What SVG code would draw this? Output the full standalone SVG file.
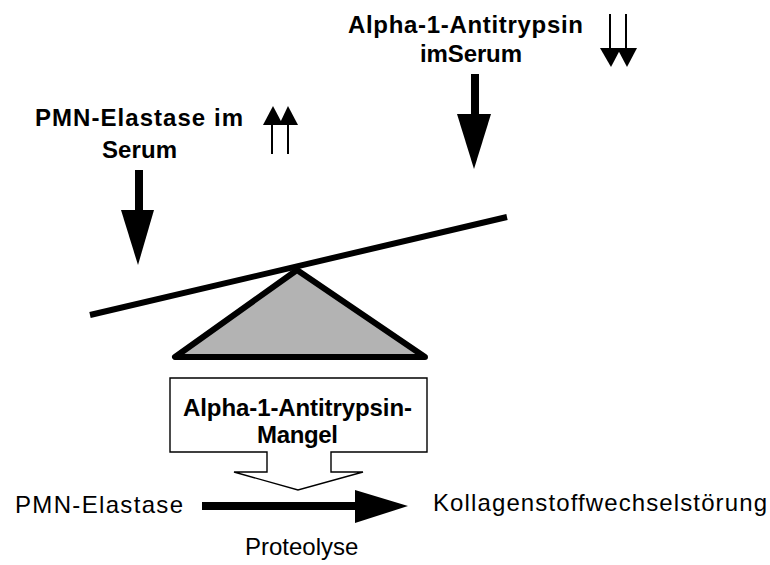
<svg xmlns="http://www.w3.org/2000/svg" width="770" height="565" viewBox="0 0 770 565">
<style>
.b{font-family:"Liberation Sans",Arial,sans-serif;font-weight:bold;font-size:24px;fill:#000}
.r{font-family:"Liberation Sans",Arial,sans-serif;font-size:24px;fill:#000}
.thin{stroke:#000;stroke-width:2;fill:none}
</style>
<rect width="770" height="565" fill="#fff"/>
<g id="label-pmn-serum">
<text class="b" x="35" y="126" textLength="208" lengthAdjust="spacing">PMN-Elastase im</text>
<text class="b" x="102" y="158" textLength="75" lengthAdjust="spacing">Serum</text>
</g>
<g id="label-alpha-serum">
<text class="b" x="348" y="33" textLength="235" lengthAdjust="spacing">Alpha-1-Antitrypsin</text>
<text class="b" x="420" y="62" textLength="102" lengthAdjust="spacing">imSerum</text>
</g>
<g id="up-arrows">
<line class="thin" x1="272" y1="122" x2="272" y2="154"/>
<line class="thin" x1="288" y1="122" x2="288" y2="154"/>
<polygon points="263,125 273,106 283,125"/>
<polygon points="279,125 288,106 298,125"/>
</g>
<g id="down-arrows">
<line class="thin" x1="610" y1="14" x2="610" y2="50"/>
<line class="thin" x1="626" y1="14" x2="626" y2="50"/>
<polygon points="600,48 611,67 621,48"/>
<polygon points="617,48 627,67 637,48"/>
</g>
<g id="seesaw">
<line x1="90" y1="315" x2="507" y2="217" stroke="#000" stroke-width="6"/>
<polygon points="297,270 175,357 425,357" fill="#b3b3b3" stroke="#000" stroke-width="6" stroke-linejoin="round"/>
</g>
<g id="callout-mangel">
<polygon points="170,378 427,378 427,452 331,452 331,472 363,472 298,490 234,472 267,472 267,452 170,452" fill="#fff" stroke="#000" stroke-width="1.4"/>
<text class="b" x="183" y="416" font-size="22.5" textLength="229" lengthAdjust="spacing">Alpha-1-Antitrypsin-</text>
<text class="b" x="257" y="443" font-size="22.5" textLength="81" lengthAdjust="spacing">Mangel</text>
</g>
<g id="node-pmn">
<text class="r" x="15" y="513" textLength="168" lengthAdjust="spacing">PMN-Elastase</text>
</g>
<g id="node-kollagen">
<text class="r" x="433" y="511" textLength="334" lengthAdjust="spacing">Kollagenstoffwechselstörung</text>
</g>
<g id="connectors">
<line x1="139" y1="170" x2="139" y2="212" stroke="#000" stroke-width="8"/>
<polygon points="121,210 154,210 138,265"/>
<line x1="475" y1="74" x2="475" y2="116" stroke="#000" stroke-width="8"/>
<polygon points="457,114 491,114 474,169"/>
<line x1="202" y1="506" x2="357" y2="506" stroke="#000" stroke-width="8"/>
<polygon points="355,490 408,506 355,523"/>
<text class="r" x="245" y="555" font-size="19.5">Proteolyse</text>
</g>
</svg>
